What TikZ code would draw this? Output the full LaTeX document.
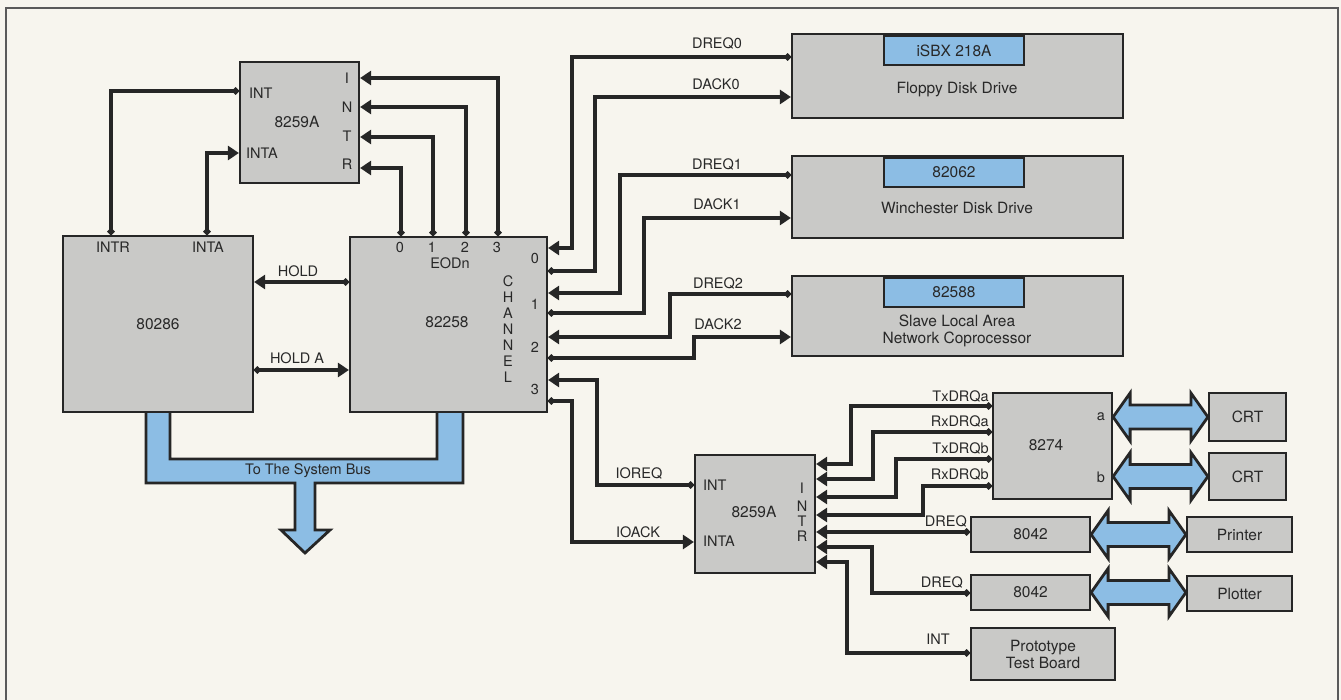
\documentclass[tikz,border=0pt]{standalone}
\usepackage{fontspec}
\setmainfont{TeX Gyre Heros}
\usetikzlibrary{arrows.meta,calc}
\definecolor{bg}{RGB}{247,245,238}
\definecolor{boxgray}{RGB}{201,201,199}
\definecolor{busblue}{RGB}{140,189,228}
\definecolor{ink}{RGB}{38,38,38}
\definecolor{txt}{RGB}{40,40,40}
\definecolor{framec}{RGB}{90,90,90}
\newcommand\fatarrow[2]{%
  \path (#1) coordinate (fa1) (#2) coordinate (fa2);
  \draw[fat] (fa1) -- ($(fa1)+(17,-24)$) -- ($(fa1)+(17,-12)$) -- ($(fa2)+(-17,-12)$)
    -- ($(fa2)+(-17,-24)$) -- (fa2) -- ($(fa2)+(-17,24)$) -- ($(fa2)+(-17,12)$)
    -- ($(fa1)+(17,12)$) -- ($(fa1)+(17,24)$) -- cycle;}
\begin{document}
\begin{tikzpicture}[x=1pt,y=-1pt,
  box/.style={draw=ink, line width=2.2pt, fill=boxgray, inner sep=0pt, text=txt,
    font=\fontsize{15.5}{17}\selectfont, align=center},
  tab/.style={draw=ink, line width=2pt, fill=busblue, inner sep=0pt, text=txt,
    font=\fontsize{15.5}{17}\selectfont, anchor=north west},
  boxlbl/.style={text=txt, inner sep=0pt, font=\fontsize{15.5}{17}\selectfont, align=center},
  lbl/.style={text=txt, inner sep=0pt, font=\fontsize{14.5}{16}\selectfont},
  sig/.style={draw=ink, line width=4.6pt},
  arr/.style={sig, {Circle[length=6.5pt]}-{Triangle[length=11pt,width=14pt]}},
  wire/.style={sig, {Circle[length=6.5pt]}-{Circle[length=6.5pt]}},
  fat/.style={draw=ink, line width=2.8pt, fill=busblue, line join=miter},
]
\useasboundingbox (0,0) rectangle (1341,700);
\fill[bg] (0,0) rectangle (1341,700);
\draw[framec, line width=2pt] (6,700) -- (6,8) -- (1338,8) -- (1338,700);

% system bus
\draw[fat] (146,405) -- (146,483) -- (295,483) -- (295,530) -- (281,530) -- (305,553)
  -- (330,530) -- (315,530) -- (315,483) -- (463,483) -- (463,405) -- (437,405)
  -- (437,459) -- (170,459) -- (170,405) -- cycle;
\node[lbl] (buslbl) at (308,471) {To The System Bus};

% boxes
\node[box, minimum width=119pt, minimum height=121pt] (pic1) at (299.5,122.5) {};
\node[box, minimum width=190pt, minimum height=176pt] (cpu) at (158,324) {80286};
\node[box, minimum width=197pt, minimum height=175pt] (dma) at (448.5,324.5) {};
\node[box, minimum width=331pt, minimum height=84pt] (floppy) at (957.5,76) {};
\node[box, minimum width=331pt, minimum height=82pt] (winch) at (957.5,197) {};
\node[box, minimum width=331pt, minimum height=80pt] (lan) at (957.5,316) {};
\node[tab, minimum width=140pt, minimum height=29pt] (ftab) at (883,35) {iSBX 218A};
\node[tab, minimum width=140pt, minimum height=29pt] (wtab) at (883,157) {82062};
\node[tab, minimum width=140pt, minimum height=29pt] (ltab) at (883,277) {82588};
\node[boxlbl] (flbl) at (957,90) {Floppy Disk Drive};
\node[boxlbl] (wlbl) at (957,208) {Winchester Disk Drive};
\node[boxlbl] (llbl) at (957,331) {Slave Local Area\\Network Coprocessor};
\node[box, minimum width=120pt, minimum height=118pt] (pic2) at (755,514) {};
\node[box, minimum width=119pt, minimum height=106pt] (usart) at (1052.5,446) {};
\node[box, minimum width=77pt, minimum height=48pt] (crt1) at (1247.5,417) {CRT};
\node[box, minimum width=77pt, minimum height=47pt] (crt2) at (1247.5,476.5) {CRT};
\node[box, minimum width=119pt, minimum height=35pt] (kb1) at (1030.5,534.5) {8042};
\node[box, minimum width=105pt, minimum height=35pt] (printer) at (1239.5,534.5) {Printer};
\node[box, minimum width=119pt, minimum height=35pt] (kb2) at (1030.5,592.5) {8042};
\node[box, minimum width=105pt, minimum height=35pt] (plotter) at (1239.5,593.5) {Plotter};
\node[box, minimum width=144pt, minimum height=52pt] (proto) at (1043,654) {Prototype\\Test Board};

% labels inside upper 8259A
\node[lbl, anchor=west] (p1int) at (249,93) {INT};
\node[lbl, anchor=west] (p1inta) at (246,153) {INTA};
\node[boxlbl] (p1name) at (297,122) {8259A};
\node[lbl] (p1i) at (347,78) {I};
\node[lbl] (p1n) at (347,107) {N};
\node[lbl] (p1t) at (347,136) {T};
\node[lbl] (p1r) at (347,164) {R};
% labels inside 80286
\node[lbl] (cintr) at (113,247) {INTR};
\node[lbl] (cinta) at (208,247) {INTA};
% labels inside 82258
\node[boxlbl] (dname) at (447,322) {82258};
\node[lbl] (e0) at (400,247) {0};
\node[lbl] (e1) at (432,247) {1};
\node[lbl] (e2) at (465,247) {2};
\node[lbl] (e3) at (497,247) {3};
\node[lbl] (eodn) at (450,263) {EODn};
\node[lbl] (ch1) at (508,281) {C};
\node[lbl] (ch2) at (508,297) {H};
\node[lbl] (ch3) at (508,313) {A};
\node[lbl] (ch4) at (508,329) {N};
\node[lbl] (ch5) at (508,345) {N};
\node[lbl] (ch6) at (508,361) {E};
\node[lbl] (ch7) at (508,377) {L};
\node[lbl] (c0) at (535,258) {0};
\node[lbl] (c1) at (535,304) {1};
\node[lbl] (c2) at (535,347) {2};
\node[lbl] (c3) at (535,389) {3};
% labels inside lower 8259A
\node[lbl, anchor=west] (p2int) at (703,485) {INT};
\node[lbl, anchor=west] (p2inta) at (703,541) {INTA};
\node[boxlbl] (p2name) at (754,512) {8259A};
\node[lbl] (p2i) at (802,488) {I};
\node[lbl] (p2n) at (802,506) {N};
\node[lbl] (p2t) at (802,521) {T};
\node[lbl] (p2r) at (802,536) {R};
% labels inside 8274
\node[boxlbl] (uname) at (1046,445) {8274};
\node[lbl] (ua) at (1101,417) {a};
\node[lbl] (ub) at (1101,477) {b};

% upper interrupt wiring
\draw[wire] (cpu.north -| 111,0) |- (pic1.west |- 0,91);
\draw[arr] (cpu.north -| 207,0) |- (pic1.west |- 0,153);
\draw[arr] (dma.north -| 401,0) |- (pic1.east |- 0,168);
\draw[arr] (dma.north -| 433,0) |- (pic1.east |- 0,137);
\draw[arr] (dma.north -| 466,0) |- (pic1.east |- 0,107);
\draw[arr] (dma.north -| 498,0) |- (pic1.east |- 0,78);

% hold
\draw[arr] (dma.west |- 0,282) -- (cpu.east |- 0,282);
\draw[arr] (cpu.east |- 0,370) -- (dma.west |- 0,370);
\node[lbl] (hold) at (298,271) {HOLD};
\node[lbl] (holda) at (297,358) {HOLD A};

% DMA channels
\draw[arr] (floppy.west |- 0,57) -| (572,248) -- (dma.east |- 0,248);
\draw[arr] (dma.east |- 0,271) -| (595,97) -- (floppy.west |- 0,97);
\draw[arr] (winch.west |- 0,175) -| (620,293) -- (dma.east |- 0,293);
\draw[arr] (dma.east |- 0,313) -| (644,218) -- (winch.west |- 0,218);
\draw[arr] (lan.west |- 0,294) -| (670,337) -- (dma.east |- 0,337);
\draw[arr] (dma.east |- 0,358) -| (694,337) -- (lan.west |- 0,337);
\draw[arr] (pic2.west |- 0,485) -| (597,380) -- (dma.east |- 0,380);
\draw[arr] (dma.east |- 0,401) -| (572,542) -- (pic2.west |- 0,542);
\node[lbl] (ldreq0) at (717,43) {DREQ0};
\node[lbl] (ldack0) at (716,84) {DACK0};
\node[lbl] (ldreq1) at (717,164) {DREQ1};
\node[lbl] (ldack1) at (717,204) {DACK1};
\node[lbl] (ldreq2) at (718,283) {DREQ2};
\node[lbl] (ldack2) at (718,324) {DACK2};
\node[lbl] (lioreq) at (639,473) {IOREQ};
\node[lbl] (lioack) at (638,532) {IOACK};

% lower interrupt inputs
\draw[arr] (usart.west |- 0,406) -| (851,464) -- (pic2.east |- 0,464);
\draw[arr] (usart.west |- 0,432) -| (873,479) -- (pic2.east |- 0,479);
\draw[arr] (usart.west |- 0,459) -| (896,497) -- (pic2.east |- 0,497);
\draw[arr] (usart.west |- 0,486) -| (923,515) -- (pic2.east |- 0,515);
\draw[arr] (kb1.west |- 0,532) -- (pic2.east |- 0,532);
\draw[arr] (kb2.west |- 0,593) -| (872,547) -- (pic2.east |- 0,547);
\draw[arr] (proto.west |- 0,653) -| (847,562) -- (pic2.east |- 0,562);
\node[lbl, anchor=east] (ltxa) at (989,396) {TxDRQa};
\node[lbl, anchor=east] (lrxa) at (989,421) {RxDRQa};
\node[lbl, anchor=east] (ltxb) at (989,448) {TxDRQb};
\node[lbl, anchor=east] (lrxb) at (989,474) {RxDRQb};
\node[lbl, anchor=east] (ldrqp) at (967,521) {DREQ};
\node[lbl, anchor=east] (ldrql) at (963,582) {DREQ};
\node[lbl, anchor=east] (lint) at (950,639) {INT};

% fat data arrows
\fatarrow{usart.east |- 0,417}{crt1.west}
\fatarrow{usart.east |- 0,476.5}{crt2.west}
\fatarrow{kb1.east}{printer.west}
\fatarrow{kb2.east}{plotter.west |- kb2.east}
\end{tikzpicture}
\end{document}
